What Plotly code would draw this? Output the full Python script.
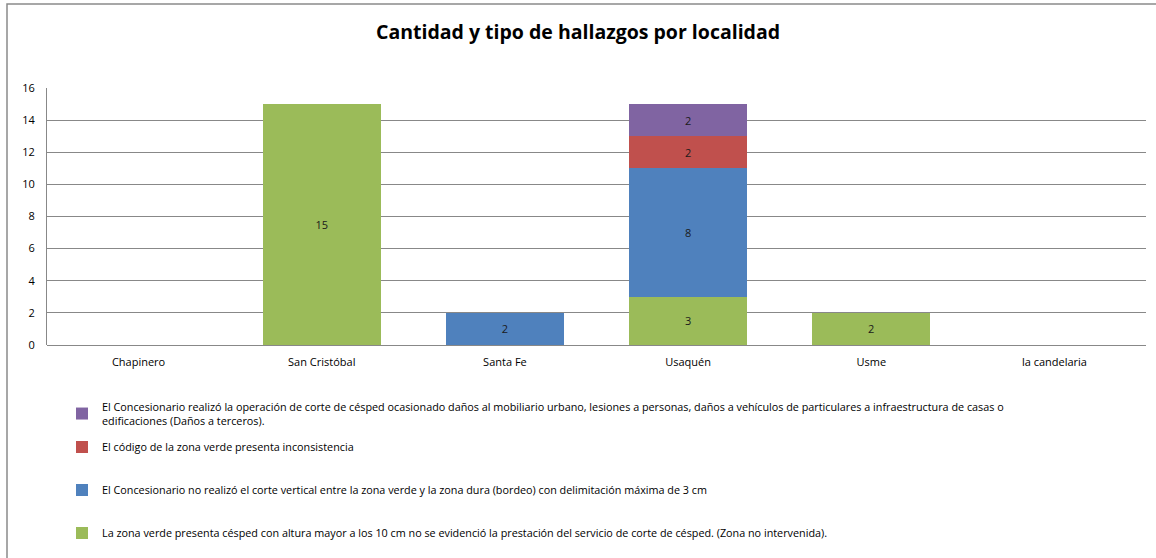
import plotly.graph_objects as go

categories = ["Chapinero", "San Cristóbal", "Santa Fe", "Usaquén", "Usme", "la candelaria"]
serie_zona_no_intervenida = [None, 15, None, 3, 2, None]
serie_corte_vertical = [None, None, 2, 8, None, None]
serie_codigo = [None, None, None, 2, None, None]
serie_danos = [None, None, None, 2, None, None]

names = [
    "La zona verde presenta césped con altura mayor a los 10 cm no se evidenció la prestación del servicio de corte de césped. (Zona no intervenida).",
    "El Concesionario no realizó el corte vertical entre la zona verde y la zona dura (bordeo) con delimitación máxima de 3 cm",
    "El código de la zona verde presenta inconsistencia",
    "El Concesionario realizó la operación de corte de césped ocasionado daños al mobiliario urbano, lesiones a personas, daños a vehículos de particulares a infraestructura de casas o<br>edificaciones (Daños a terceros).",
]
series = [serie_zona_no_intervenida, serie_corte_vertical, serie_codigo, serie_danos]
colors = ["#9BBB59", "#4F81BD", "#C0504D", "#8064A2"]
legend_ids = ["legend4", "legend3", "legend2", "legend"]

FONT = "Open Sans, sans-serif"

fig = go.Figure()
for nm, vals, c, lg in zip(names, series, colors, legend_ids):
    fig.add_trace(go.Bar(
        x=categories, y=vals, name=nm,
        marker=dict(color=c, line=dict(width=0)),
        text=[str(v) if v is not None else "" for v in vals],
        textposition="inside", insidetextanchor="middle",
        textfont=dict(color="#1a1a1a", size=11, family=FONT),
        legend=lg,
        width=0.645,
    ))

L, R_, T, B = 47, 10, 88, 213
W, H = 1156, 558
pw = W - L - R_
ph = H - T - B

def px2x(px):
    return (px - L) / pw

def py2y(py):
    return (H - B - py) / ph

def leg(center_y):
    return dict(x=px2x(62), xanchor="left", y=py2y(center_y), yanchor="middle",
                font=dict(size=10.8, family=FONT, color="#000000"),
                itemwidth=30, bgcolor="rgba(0,0,0,0)")

fig.update_layout(
    width=W, height=H,
    margin=dict(l=L, r=R_, t=T, b=B, pad=0, autoexpand=False),
    barmode="stack",
    bargap=0.355,
    plot_bgcolor="white", paper_bgcolor="white",
    font=dict(family=FONT, size=11, color="#000000"),
    title=dict(text="<b>Cantidad y tipo de hallazgos por localidad</b>",
               x=0.5, xanchor="center", y=1 - 32 / H, yanchor="middle",
               font=dict(size=19.5, family=FONT, color="#000000")),
    showlegend=True,
    legend=leg(414),
    legend2=leg(447),
    legend3=leg(490),
    legend4=leg(533),
    xaxis=dict(showgrid=False, showline=False, ticks="", tickfont=dict(size=11, color="#000000"),
               ticklabelstandoff=9),
    yaxis=dict(range=[0, 16], dtick=2, showgrid=True, gridcolor="#888888", gridwidth=1,
               showline=True, linecolor="#888888", linewidth=1, zeroline=True,
               zerolinecolor="#888888", zerolinewidth=1,
               ticks="", tickfont=dict(size=11, color="#000000"), ticklabelstandoff=9),
    shapes=[dict(type="rect", xref="paper", yref="paper",
                 x0=px2x(7), x1=px2x(1170), y0=py2y(570), y1=py2y(4),
                 line=dict(color="#8a8a8a", width=1.5), fillcolor="rgba(0,0,0,0)", layer="below")],
)

fig.write_html("out.html", config={"displayModeBar": False},
               post_script="document.body.style.margin='0';")
